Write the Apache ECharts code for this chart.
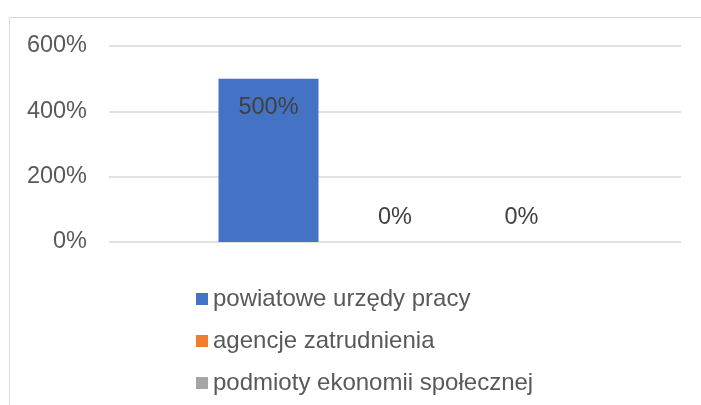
<!DOCTYPE html>
<html>
<head>
<meta charset="utf-8">
<script src="https://cdn.jsdelivr.net/npm/echarts@6/dist/echarts.min.js"></script>
<style>
  html, body { margin: 0; padding: 0; background: #fff; }
  #chart { width: 701px; height: 405px; }
</style>
</head>
<body>
<div id="chart"></div>
<script>
// Data
const categories = [''];
const seriesNames = ['powiatowe urzędy pracy', 'agencje zatrudnienia', 'podmioty ekonomii społecznej'];
const urzedyPracy = [500];
const agencje = [0];
const podmioty = [0];
const yTicks = [0, 200, 400, 600];

const colors = ['#4472C4', '#ED7D31', '#A5A5A5'];
const seriesValues = [urzedyPracy, agencje, podmioty];

const font = '"Liberation Sans", Arial, sans-serif';

const chart = echarts.init(document.getElementById('chart'), null, { renderer: 'canvas' });

chart.setOption({
  animation: false,
  textStyle: { fontFamily: font },
  graphic: [{
    type: 'rect',
    shape: { x: 9.5, y: 17.5, width: 800, height: 500 },
    style: { fill: 'none', stroke: '#d9d9d9', lineWidth: 1 },
    silent: true
  }],
  grid: { left: 109, right: 20, top: 46, bottom: 163 },
  legend: {
    orient: 'vertical',
    left: 196,
    top: 287,
    padding: 0,
    itemWidth: 12,
    itemHeight: 12,
    itemGap: 18,
    icon: 'rect',
    textStyle: { fontSize: 24, color: '#595959', fontFamily: font, padding: [0, 0, 0, 0] },
    data: seriesNames
  },
  xAxis: {
    type: 'category',
    data: categories,
    axisLine: { show: false },
    axisTick: { show: false },
    axisLabel: { show: false }
  },
  yAxis: {
    type: 'value',
    min: yTicks[0],
    max: yTicks[yTicks.length - 1],
    interval: 200,
    axisLine: { show: false },
    axisTick: { show: false },
    axisLabel: {
      fontSize: 23.5,
      color: '#595959',
      fontFamily: font,
      margin: 22,
      formatter: v => v + '%'
    },
    splitLine: { lineStyle: { color: '#d9d9d9', width: 1.5 } }
  },
  series: seriesNames.map((name, i) => ({
    name,
    type: 'bar',
    barWidth: 100,
    barGap: '26.5%',
    itemStyle: { color: colors[i] },
    data: seriesValues[i].map(v => ({
      value: v,
      label: v === 0
        ? { position: 'top', distance: 12 }
        : { position: 'insideTop', distance: 17 }
    })),
    label: {
      show: true,
      fontSize: 23.5,
      color: '#404040',
      fontFamily: font,
      formatter: p => p.value + '%'
    }
  }))
});
</script>
</body>
</html>
